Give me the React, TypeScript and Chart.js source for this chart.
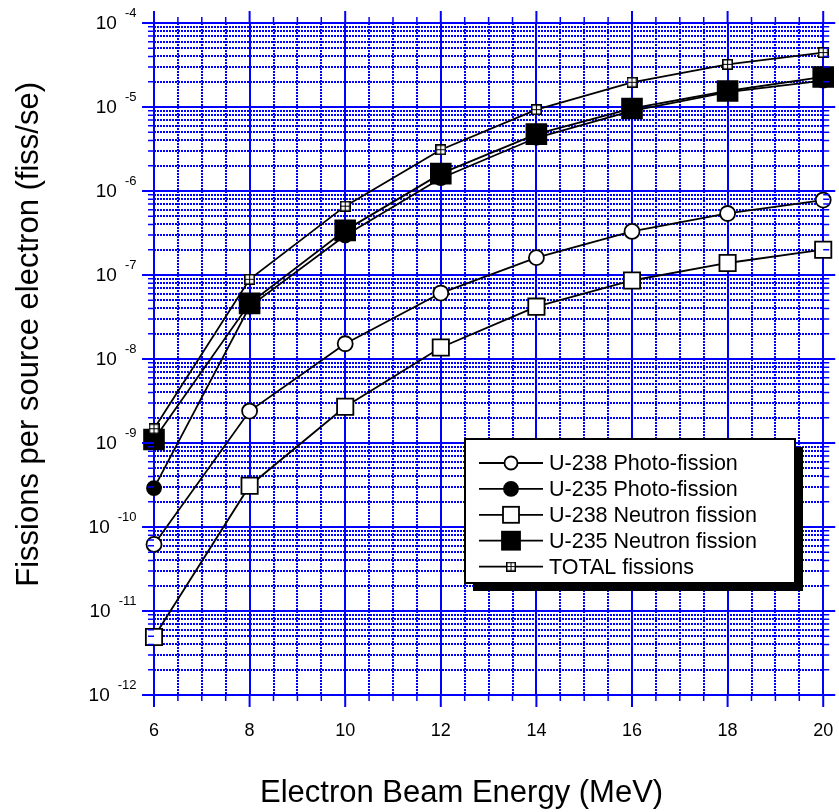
import React, { useEffect, useRef } from "react";
import { Chart, registerables } from "chart.js";

Chart.register(...registerables);

// ---------------- data ----------------
const energies = [6, 8, 10, 12, 14, 16, 18, 20];
const u238Photo = [6.2e-11, 2.4e-9, 1.52e-8, 6.1e-8, 1.61e-7, 3.3e-7, 5.4e-7, 7.8e-7];
const u235Photo = [2.9e-10, 4.2e-8, 2.95e-7, 1.42e-6, 4.3e-6, 9.0e-6, 1.5e-5, 2.06e-5];
const u238Neutron = [4.9e-12, 3.1e-10, 2.7e-9, 1.37e-8, 4.2e-8, 8.6e-8, 1.39e-7, 2.0e-7];
const u235Neutron = [1.1e-9, 4.6e-8, 3.4e-7, 1.61e-6, 4.75e-6, 9.6e-6, 1.55e-5, 2.28e-5];
const totalFissions = [1.48e-9, 8.9e-8, 6.6e-7, 3.1e-6, 9.3e-6, 1.97e-5, 3.22e-5, 4.44e-5];

const seriesLabels = [
  "U-238 Photo-fission",
  "U-235 Photo-fission",
  "U-238 Neutron fission",
  "U-235 Neutron fission",
  "TOTAL fissions",
];

const xTickValues = [6, 6.5, 7, 7.5, 8, 8.5, 9, 9.5, 10, 10.5, 11, 11.5, 12, 12.5, 13, 13.5, 14, 14.5, 15, 15.5, 16, 16.5, 17, 17.5, 18, 18.5, 19, 19.5, 20];
const xMajorValues = [6, 8, 10, 12, 14, 16, 18, 20];
const xTickLabels = ["6", "8", "10", "12", "14", "16", "18", "20"];
const yExponents = [-12, -11, -10, -9, -8, -7, -6, -5, -4];
const yMantissas = [1, 2, 3, 4, 5, 6, 7, 8, 9];

const xAxisTitle = "Electron Beam Energy (MeV)";
const yAxisTitle = "Fissions per source electron (fiss/se)";

// ---------------- styles ----------------
const FONT = "'Liberation Sans', Arial, Helvetica, sans-serif";
const BLUE = "#0000ff";

const yTickValues: number[] = [];
yExponents.forEach((e) => {
  if (e === yExponents[yExponents.length - 1]) {
    yTickValues.push(Math.pow(10, e));
  } else {
    yMantissas.forEach((m) => yTickValues.push(m * Math.pow(10, e)));
  }
});

const isMajorY = (v: number) => {
  const l = Math.log10(v);
  return Math.abs(l - Math.round(l)) < 1e-6;
};
const isMajorX = (v: number) => xMajorValues.some((m) => Math.abs(m - v) < 1e-9);

function makeTotalMarker(): HTMLCanvasElement {
  const c = document.createElement("canvas");
  c.width = 11;
  c.height = 11;
  const g = c.getContext("2d")!;
  g.fillStyle = "#fff";
  g.fillRect(0, 0, 11, 11);
  g.strokeStyle = "#000";
  g.lineWidth = 1.6;
  g.strokeRect(0.8, 0.8, 9.4, 9.4);
  g.lineWidth = 1.1;
  g.beginPath();
  g.moveTo(5.5, 1);
  g.lineTo(5.5, 10);
  g.moveTo(1, 5.5);
  g.lineTo(10, 5.5);
  g.stroke();
  return c;
}

function toXY(vals: number[]) {
  return energies.map((x, i) => ({ x, y: vals[i] }));
}

type MarkerKind = "openCircle" | "filledCircle" | "openSquare" | "filledSquare" | "total";
const legendKinds: MarkerKind[] = ["openCircle", "filledCircle", "openSquare", "filledSquare", "total"];

function drawLegendMarker(ctx: CanvasRenderingContext2D, kind: MarkerKind, x: number, y: number, totalImg: HTMLCanvasElement) {
  ctx.save();
  ctx.strokeStyle = "#000";
  ctx.lineWidth = 1.8;
  if (kind === "openCircle" || kind === "filledCircle") {
    ctx.beginPath();
    ctx.arc(x, y, kind === "openCircle" ? 6.5 : 7, 0, Math.PI * 2);
    ctx.fillStyle = kind === "openCircle" ? "#fff" : "#000";
    ctx.fill();
    ctx.stroke();
  } else if (kind === "openSquare" || kind === "filledSquare") {
    const h = kind === "openSquare" ? 8 : 9;
    ctx.fillStyle = kind === "openSquare" ? "#fff" : "#000";
    ctx.fillRect(x - h, y - h, 2 * h, 2 * h);
    ctx.strokeRect(x - h, y - h, 2 * h, 2 * h);
  } else {
    ctx.drawImage(totalImg, x - 5, y - 5, 10, 10);
  }
  ctx.restore();
}

export default function App() {
  const canvasRef = useRef<HTMLCanvasElement | null>(null);

  useEffect(() => {
    const canvas = canvasRef.current;
    if (!canvas) return;
    const totalImg = makeTotalMarker();

    const overlayPlugin = {
      id: "overlay",
      afterDraw(chart: any) {
        const { ctx, chartArea } = chart;
        const { left, right, top, bottom } = chartArea;
        const xs = chart.scales.x;
        const ys = chart.scales.y;
        ctx.save();
        ctx.strokeStyle = BLUE;
        // outward tick marks on all four sides
        xTickValues.forEach((v) => {
          const px = xs.getPixelForValue(v);
          const major = isMajorX(v);
          const len = major ? 12 : 6;
          ctx.lineWidth = major ? 2 : 1.5;
          ctx.beginPath();
          ctx.moveTo(px, top - len);
          ctx.lineTo(px, top);
          ctx.moveTo(px, bottom);
          ctx.lineTo(px, bottom + len);
          ctx.stroke();
        });
        yTickValues.forEach((v) => {
          const py = ys.getPixelForValue(v);
          const major = isMajorY(v);
          const len = major ? 12 : 6;
          ctx.lineWidth = major ? 2 : 1.5;
          ctx.beginPath();
          ctx.moveTo(left - len, py);
          ctx.lineTo(left, py);
          ctx.moveTo(right, py);
          ctx.lineTo(right + len, py);
          ctx.stroke();
        });

        // y tick labels: 10 with superscript exponent
        ctx.fillStyle = "#000";
        ctx.textBaseline = "middle";
        ctx.textAlign = "right";
        yExponents.forEach((e) => {
          const py = ys.getPixelForValue(Math.pow(10, e));
          const expStr = String(e);
          ctx.font = `13px ${FONT}`;
          const ew = ctx.measureText(expStr).width;
          ctx.fillText(expStr, 136.5, py - 10);
          ctx.font = `19px ${FONT}`;
          ctx.fillText("10", 136.5 - ew - 8, py + 1);
        });

        // axis titles
        ctx.font = `31px ${FONT}`;
        ctx.textAlign = "left";
        ctx.textBaseline = "alphabetic";
        ctx.fillText(xAxisTitle, 260, 802);
        ctx.save();
        ctx.translate(38, 82);
        ctx.rotate(-Math.PI / 2);
        ctx.textAlign = "right";
        ctx.fillText(yAxisTitle, 0, 0);
        ctx.restore();

        // legend box with shadow
        const lx = 465, ly = 439, lw = 330, lh = 144;
        ctx.fillStyle = "#000";
        ctx.fillRect(lx + 8, ly + 8, lw, lh);
        ctx.fillStyle = "#fff";
        ctx.fillRect(lx, ly, lw, lh);
        ctx.strokeStyle = "#000";
        ctx.lineWidth = 2;
        ctx.strokeRect(lx, ly, lw, lh);
        chart.data.datasets.forEach((ds: any, i: number) => {
          const cy = 463 + i * 25.9;
          ctx.strokeStyle = "#000";
          ctx.lineWidth = 1.8;
          ctx.beginPath();
          ctx.moveTo(479, cy);
          ctx.lineTo(543, cy);
          ctx.stroke();
          drawLegendMarker(ctx, legendKinds[i], 511, cy, totalImg);
          ctx.fillStyle = "#000";
          ctx.font = `21.5px ${FONT}`;
          ctx.textAlign = "left";
          ctx.textBaseline = "middle";
          ctx.fillText(ds.label, 549, cy + 1);
        });
        ctx.restore();
      },
    };

    const common = {
      borderColor: "#000",
      borderWidth: 1.8,
      tension: 0,
      clip: false as any,
      pointBorderColor: "#000",
      pointBorderWidth: 1.8,
      pointHoverRadius: 0,
    };

    const chart = new Chart(canvas, {
      type: "line",
      data: {
        datasets: [
          { ...common, label: seriesLabels[0], data: toXY(u238Photo), pointStyle: "circle", pointRadius: 7.5, pointBackgroundColor: "#fff", order: 3 },
          { ...common, label: seriesLabels[1], data: toXY(u235Photo), pointStyle: "circle", pointRadius: 7, pointBackgroundColor: "#000", order: 3 },
          { ...common, label: seriesLabels[2], data: toXY(u238Neutron), pointStyle: "rect", pointRadius: 11.5, pointBackgroundColor: "#fff", order: 3 },
          { ...common, label: seriesLabels[3], data: toXY(u235Neutron), pointStyle: "rect", pointRadius: 14, pointBackgroundColor: "#000", order: 2 },
          { ...common, label: seriesLabels[4], data: toXY(totalFissions), pointStyle: totalImg as any, pointRadius: 5, pointBackgroundColor: "#fff", order: 1 },
        ] as any,
      },
      options: {
        animation: false,
        responsive: false,
        devicePixelRatio: 1,
        events: [],
        layout: { padding: { top: 23, right: 11, left: 0, bottom: 0 } },
        plugins: {
          legend: { display: false },
          tooltip: { enabled: false },
          title: { display: false },
        },
        scales: {
          x: {
            type: "linear",
            min: 6,
            max: 20,
            afterBuildTicks: (scale: any) => {
              scale.ticks = xTickValues.map((v) => ({ value: v }));
            },
            afterFit: (scale: any) => {
              scale.height = 117;
              scale.paddingLeft = 0;
              scale.paddingRight = 0;
              scale.paddingTop = 0;
              scale.paddingBottom = 0;
            },
            grid: {
              color: BLUE,
              lineWidth: 2,
              drawTicks: false,
            },
            border: {
              display: false,
              dash: (c: any) => (c.tick && isMajorX(c.tick.value) ? [] : [2, 1]),
            } as any,
            ticks: {
              autoSkip: false,
              maxRotation: 0,
              minRotation: 0,
              padding: 25,
              color: "#000",
              font: { size: 18, family: FONT },
              callback: (value: any) => {
                const idx = xMajorValues.findIndex((m) => Math.abs(m - Number(value)) < 1e-9);
                return idx >= 0 ? xTickLabels[idx] : "";
              },
            },
          },
          y: {
            type: "logarithmic",
            min: 1e-12,
            max: 1e-4,
            afterBuildTicks: (scale: any) => {
              scale.ticks = yTickValues.map((v) => ({ value: v }));
            },
            afterFit: (scale: any) => {
              scale.width = 154;
              scale.paddingLeft = 0;
              scale.paddingRight = 0;
              scale.paddingTop = 0;
              scale.paddingBottom = 0;
            },
            grid: {
              color: BLUE,
              lineWidth: 2,
              drawTicks: false,
            },
            border: {
              display: false,
              dash: (c: any) => (c.tick && isMajorY(c.tick.value) ? [] : [2, 1]),
            } as any,
            ticks: { display: false },
          },
        },
      } as any,
      plugins: [overlayPlugin],
    });

    return () => {
      chart.destroy();
    };
  }, []);

  return (
    <div style={{ position: "fixed", left: 0, top: 0, width: 839, height: 812, background: "#fff" }}>
      <canvas ref={canvasRef} width={839} height={812} style={{ width: 839, height: 812, display: "block" }} />
    </div>
  );
}
